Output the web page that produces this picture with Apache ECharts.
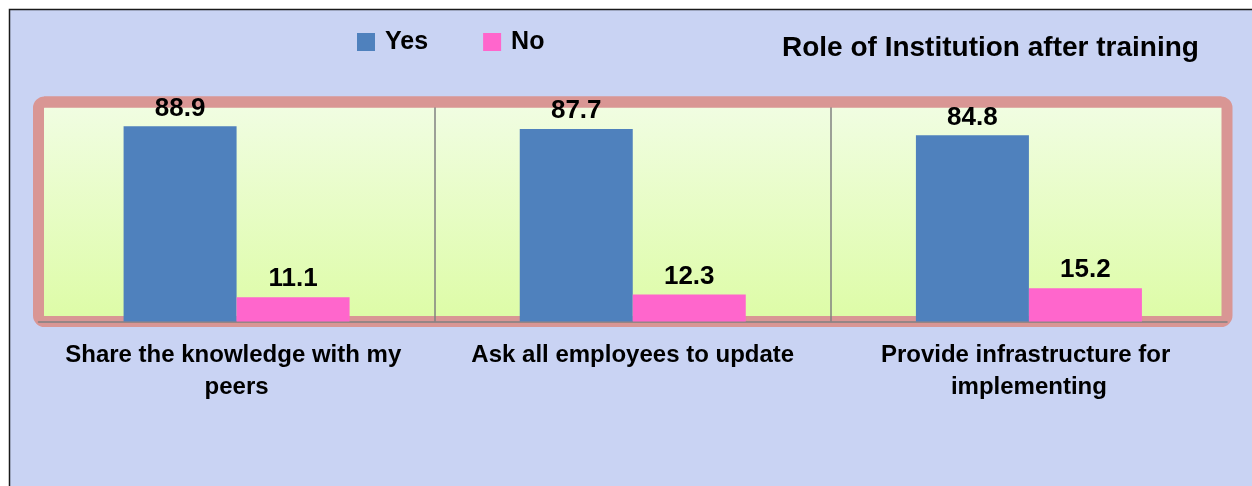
<!DOCTYPE html>
<html>
<head>
<meta charset="utf-8">
<script src="https://cdn.jsdelivr.net/npm/echarts@6/dist/echarts.min.js"></script>
<style>
    body { margin: 0; background: #fff; }
    #chart { width: 1252px; height: 486px; }
</style>
</head>
<body>
<div id="chart"></div>
<script>
var categories = ['Share the knowledge with my peers', 'Ask all employees to update', 'Provide infrastructure for implementing'];
var seriesNames = ['Yes', 'No'];
var yesValues = [88.9, 87.7, 84.8];
var noValues = [11.1, 12.3, 15.2];

var main = function () {
    var font = '"Liberation Sans", Arial, sans-serif';
    // plot box, the pink frame is drawn centred on it
    var box = {left: 38.5, top: 102, right: 1227, bottom: 321.5};

    var frame = function () {
        return [
            {
                type: 'rect', z: -10, silent: true,
                shape: {x: 9.5, y: 9.5, width: 1300, height: 600},
                style: {fill: '#c9d3f3', stroke: '#1a1a1a', lineWidth: 1.5}
            },
            {
                type: 'rect', z: 1, silent: true,
                shape: {x: box.left, y: box.top, width: box.right - box.left, height: box.bottom - box.top, r: 6},
                style: {fill: null, stroke: '#d99694', lineWidth: 11}
            },
            {
                // keeps the split lines under the top band
                type: 'rect', z: 1.8, silent: true,
                shape: {x: box.left + 5.5, y: box.top - 5.5, width: box.right - box.left - 11, height: 11},
                style: {fill: '#d99694'}
            }
        ];
    };

    var chart = echarts.init(document.getElementById('chart'));
    var option = {
        backgroundColor: '#fff',
        animation: false,
        textStyle: {fontFamily: font},
        title: {
            text: 'Role of Institution after training',
            left: 782, top: 34, padding: 0,
            textStyle: {fontFamily: font, fontSize: 28, fontWeight: 'bold', color: '#000'}
        },
        legend: {
            data: seriesNames,
            left: 357, top: 29, padding: 0,
            icon: 'rect', itemWidth: 18, itemHeight: 18, itemGap: 55,
            textStyle: {fontFamily: font, fontSize: 25, fontWeight: 'bold', color: '#000', lineHeight: 26, padding: [0, 0, 0, 5]}
        },
        grid: {
            left: box.left, top: box.top, right: 1252 - box.right, bottom: 486 - box.bottom,
            show: true, borderWidth: 0,
            backgroundColor: new echarts.graphic.LinearGradient(0, 0, 0, 1, [
                {offset: 0, color: '#f1fde3'},
                {offset: 1, color: '#ddfca6'}
            ])
        },
        xAxis: {
            type: 'category',
            data: categories,
            z: 1.5,
            axisLine: {lineStyle: {color: '#808080', width: 1.5}},
            axisTick: {length: 6, lineStyle: {color: '#808080', width: 1.5}},
            splitLine: {show: true, showMinLine: false, showMaxLine: false, lineStyle: {color: '#808080', width: 1.5}},
            axisLabel: {
                interval: 0, margin: 18,
                fontFamily: font, fontSize: 24, fontWeight: 'bold', color: '#000',
                lineHeight: 32, width: 345, overflow: 'break', align: 'center'
            }
        },
        yAxis: {
            type: 'value', min: 0, max: 100, show: false
        },
        graphic: frame(),
        series: [
            {
                name: seriesNames[0], type: 'bar', data: yesValues,
                barWidth: 113, barGap: '0%',
                itemStyle: {color: '#4f81bd'},
                label: {show: true, position: 'top', distance: 5, fontFamily: font, fontSize: 26, fontWeight: 'bold', color: '#000'}
            },
            {
                name: seriesNames[1], type: 'bar', data: noValues,
                barWidth: 113, barGap: '0%',
                itemStyle: {color: '#ff66cc'},
                label: {show: true, position: 'top', distance: 5, fontFamily: font, fontSize: 26, fontWeight: 'bold', color: '#000'}
            }
        ]
    };
    chart.setOption(option);
    return chart;
}();
</script>
</body>
</html>
